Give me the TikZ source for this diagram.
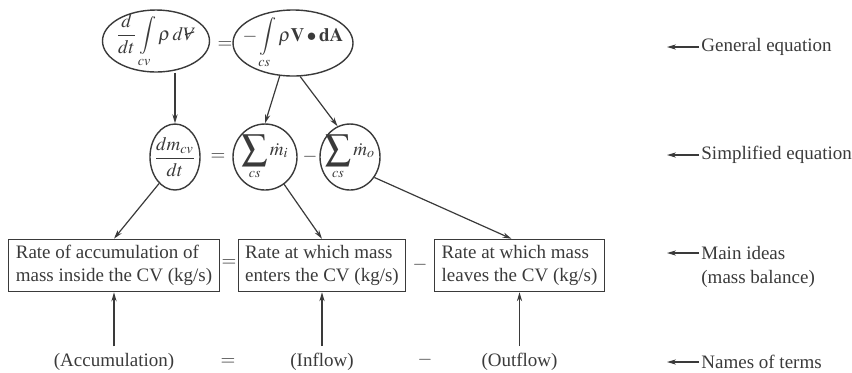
\documentclass[tikz,border=0pt]{standalone}
\usepackage{mathptmx}
\usepackage{fontspec}
\setmainfont{Liberation Serif}
\usetikzlibrary{shapes.geometric, arrows.meta, positioning}

% volume symbol (V with a stroke)
\newcommand{\volsym}{\mbox{\ooalign{$V$\cr\hidewidth\raisebox{0.55ex}{\rotatebox{18}{\rule{0.5em}{0.06em}}}\hidewidth\cr}}}
% bigger summation sign
\newcommand{\bigsum}{\mathop{\vcenter{\hbox{\scalebox{1.35}{$\displaystyle\sum$}}}}\limits}

\begin{document}
\begin{tikzpicture}[x=0.5pt, y=-0.5pt, >={Stealth[length=4.5pt,width=2.6pt]},
    font=\fontsize{9.5}{11.5}\selectfont]

    % --- DEFINITIONS ---
    \definecolor{inkgray}{RGB}{58, 58, 58}
    \tikzset{
        eqoval/.style={ellipse, draw=inkgray, line width=0.7pt, inner sep=-4pt, text=inkgray},
        ideabox/.style={draw=inkgray, line width=0.6pt, align=left, inner xsep=3.5pt, inner ysep=3pt, text=inkgray},
        flow/.style={->, draw=inkgray, line width=0.6pt},
        sign/.style={text=inkgray, inner sep=1pt},
        termname/.style={text=inkgray},
        sidenote/.style={align=left, text=inkgray, inner xsep=1pt}
    }
    \useasboundingbox (0,0) rectangle (852,372);

    % --- ROW 1: GENERAL EQUATION ---
    \node[eqoval, minimum width=53.5pt, minimum height=31pt] (gen1) at (156,41)
        {$\displaystyle\frac{d}{dt}\int\limits_{cv}\rho\, d\volsym$};
    \node[sign] (geneq) at (225,45) {$=$};
    \node[eqoval, minimum width=60pt, minimum height=33pt] (gen2) at (293,43)
        {$\displaystyle-\int\limits_{cs}\rho\mathbf{V}\bullet\mathbf{dA}$};

    % --- ROW 2: SIMPLIFIED EQUATION ---
    \node[eqoval, minimum width=25pt, minimum height=33pt] (dmdt) at (175,157)
        {$\displaystyle\frac{dm_{cv}}{dt}$};
    \node[sign] (simpeq) at (218,157) {$=$};
    \node[eqoval, minimum width=32pt, minimum height=33pt] (sumin) at (265,157)
        {$\displaystyle\bigsum_{cs}\dot m_i$};
    \node[sign] (simpminus) at (310,157) {$-$};
    \node[eqoval, minimum width=30pt, minimum height=33pt] (sumout) at (350,157)
        {$\displaystyle\bigsum_{cs}\dot m_o$};

    % --- ROW 3: MAIN IDEAS (boxes) ---
    \node[ideabox] (accbox) at (114,265.5) {Rate of accumulation of\\mass inside the CV (kg/s)};
    \node[sign] (boxeq) at (229,263) {$=$};
    \node[ideabox] (inbox) at (322,265.5) {Rate at which mass\\enters the CV (kg/s)};
    \node[sign] (boxminus) at (420,265) {$-$};
    \node[ideabox] (outbox) at (519.5,265.5) {Rate at which mass\\leaves the CV (kg/s)};

    % --- ROW 4: NAMES OF TERMS ---
    \node[termname] (accname) at (114,362) {(Accumulation)};
    \node[sign] (nameeq) at (228,362) {$=$};
    \node[termname] (inname) at (322,362) {(Inflow)};
    \node[sign] (nameminus) at (425,360) {$-$};
    \node[termname] (outname) at (519.5,362) {(Outflow)};

    % connectors
    \draw[flow] (dmdt.north |- gen1.south) -- (dmdt.north);
    \draw[flow] (gen2.-112) -- (sumin.north);
    \draw[flow] (gen2.-78) -- (sumout.112);
    \draw[flow] (dmdt.-121) -- (accbox.north);
    \draw[flow] (sumin.-55) -- (inbox.north);
    \draw[flow] (sumout.-40) -- ([xshift=-4pt]outbox.north);
    \draw[flow] (accname) -- (accbox);
    \draw[flow] (inname) -- (inbox);
    \draw[flow] (outname) -- (outbox);

    % --- SIDE NOTES ---
    \coordinate (gentip) at (667,47);
    \coordinate (simptip) at (667,155);
    \coordinate (maintip) at (667,253);
    \coordinate (nametip) at (667,362);
    \node[sidenote, right=16pt of gentip] (genlbl) {General equation};
    \node[sidenote, right=16pt of simptip] (simplbl) {Simplified equation};
    \node[sidenote, right=16pt of maintip] (mainlbl) {Main ideas};
    \node[sidenote, anchor=north west, yshift=2pt] (mainlbl2) at (mainlbl.south west) {(mass balance)};
    \node[sidenote, right=16pt of nametip] (namelbl) {Names of terms};
    \draw[flow] (genlbl) -- (gentip);
    \draw[flow] (simplbl) -- (simptip);
    \draw[flow] (mainlbl) -- (maintip);
    \draw[flow] (namelbl) -- (nametip);
\end{tikzpicture}
\end{document}
